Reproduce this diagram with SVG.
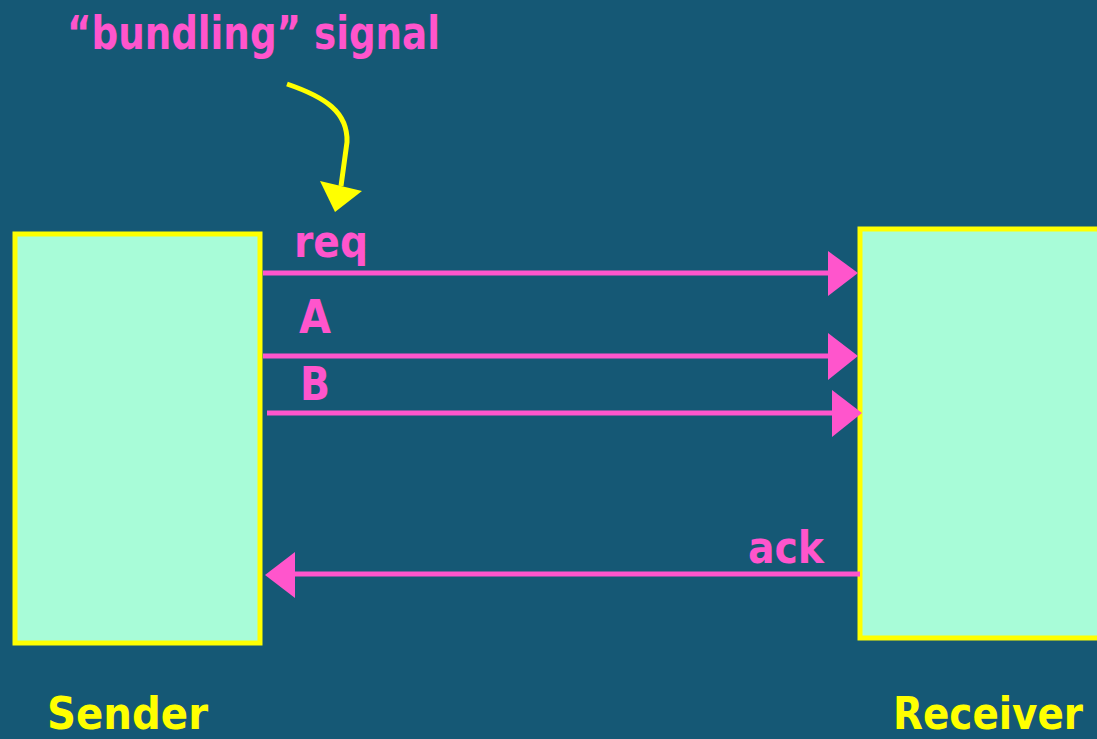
<svg xmlns="http://www.w3.org/2000/svg" width="1097" height="739" viewBox="0 0 1097 739">
<defs>
<style>
.box{fill:#a8fcd8;stroke:#ffff00;stroke-width:5}
.wire{stroke:#ff55cc;stroke-width:5;fill:none}
.head{fill:#ff55cc}
.lbl{font-family:"DejaVu Sans","Liberation Sans",sans-serif;font-weight:bold;fill:#ff55cc}
.name{font-family:"DejaVu Sans","Liberation Sans",sans-serif;font-weight:bold;fill:#ffff00}
</style>
</defs>
<rect width="1097" height="739" fill="#155875"/>
<g id="sender">
<rect class="box" x="15" y="234" width="245" height="409"/>
<text class="name" x="47" y="729" font-size="45" textLength="161" lengthAdjust="spacingAndGlyphs">Sender</text>
</g>
<g id="receiver">
<rect class="box" x="860" y="229" width="240" height="409"/>
<text class="name" x="893" y="729" font-size="45" textLength="190" lengthAdjust="spacingAndGlyphs">Receiver</text>
</g>
<g id="note">
<text class="lbl" x="67" y="49" font-size="46" textLength="373" lengthAdjust="spacingAndGlyphs">“bundling” signal</text>
</g>
<g id="connectors">
<path d="M287,84 C325,97 348,112 347,142 L341,186" stroke="#ffff00" stroke-width="5" fill="none"/>
<polygon points="320,181 362,191 335,212" fill="#ffff00"/>
<line class="wire" x1="263" y1="273" x2="832" y2="273"/>
<polygon class="head" points="828,251 858,273 828,296"/>
<text class="lbl" x="294" y="257" font-size="44" textLength="74" lengthAdjust="spacingAndGlyphs">req</text>
<line class="wire" x1="263" y1="356" x2="832" y2="356"/>
<polygon class="head" points="828,333 858,356 828,380"/>
<text class="lbl" x="299" y="333" font-size="46" textLength="32" lengthAdjust="spacingAndGlyphs">A</text>
<line class="wire" x1="267" y1="413" x2="836" y2="413"/>
<polygon class="head" points="832,390 862,413 832,437"/>
<text class="lbl" x="300" y="400" font-size="46" textLength="30" lengthAdjust="spacingAndGlyphs">B</text>
<line class="wire" x1="860" y1="574" x2="290" y2="574"/>
<polygon class="head" points="295,552 265,575 295,598"/>
<text class="lbl" x="748" y="563" font-size="44" textLength="76" lengthAdjust="spacingAndGlyphs">ack</text>
</g>
</svg>
